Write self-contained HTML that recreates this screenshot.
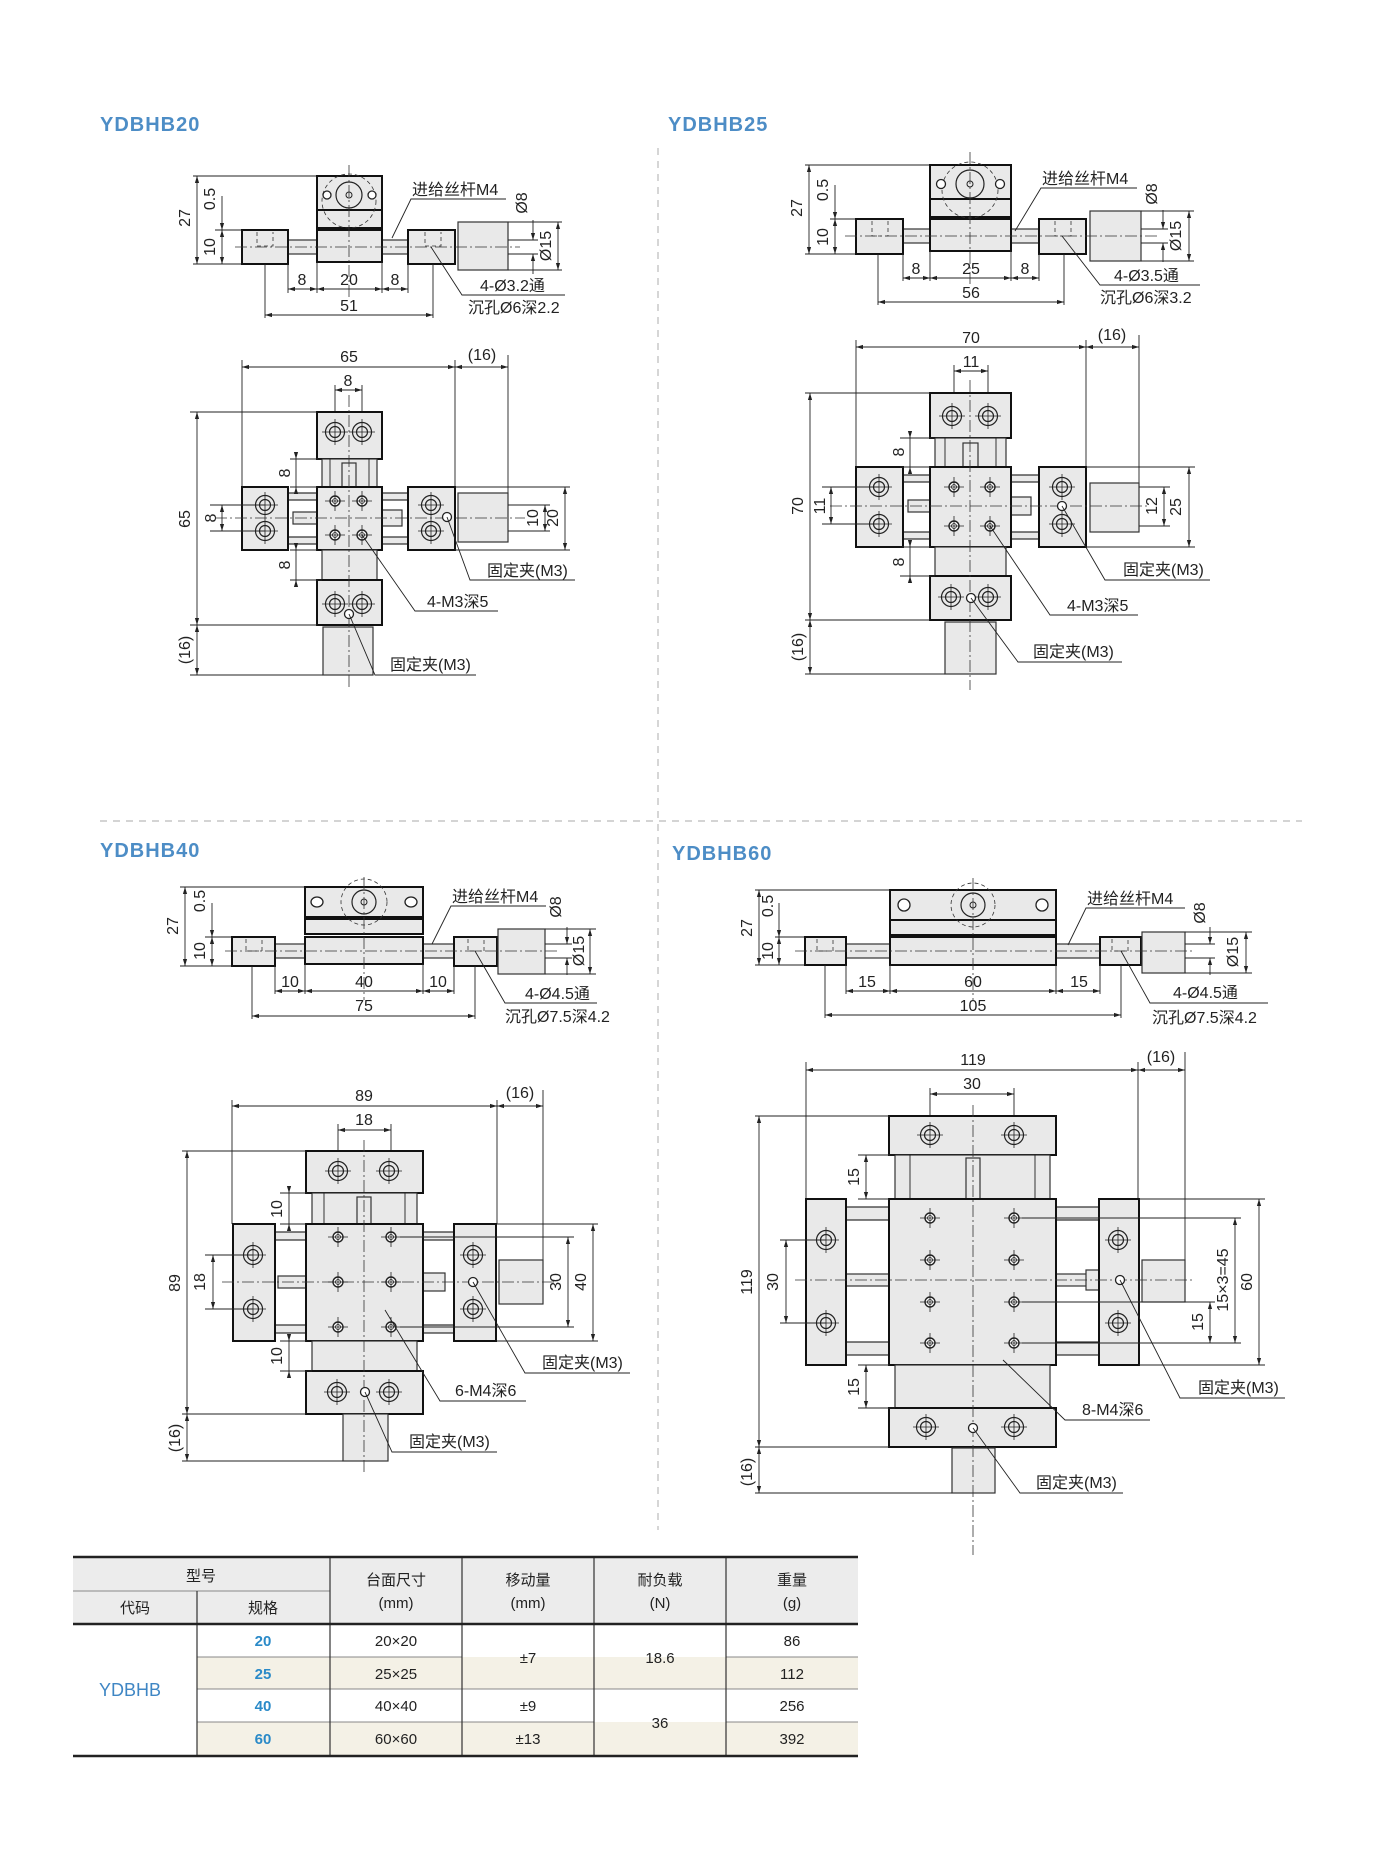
<!DOCTYPE html>
<html><head><meta charset="utf-8">
<style>
html,body{margin:0;padding:0;background:#fff;}
svg{display:block}
text{font-family:"Liberation Sans","Noto Sans CJK SC",sans-serif;fill:#222;}
.p{fill:#e9e9e9;stroke:#111;stroke-width:2}
.q{fill:#e9e9e9;stroke:#333;stroke-width:1.2}
.dm{stroke:#222;stroke-width:.9;fill:none}
.cl{stroke:#333;stroke-width:.8;stroke-dasharray:12 3 2 3;fill:none}
.dh{stroke:#333;stroke-width:.8;stroke-dasharray:4 3;fill:none}
.t{font-size:16px}
.l{font-size:16px}
.tt{font-size:20px;fill:#4d8dc6;font-weight:bold;letter-spacing:1px}
.tb{font-size:15px}
</style></head>
<body>
<svg width="1384" height="1856" viewBox="0 0 1384 1856" xmlns="http://www.w3.org/2000/svg">
<defs>
<marker id="a" viewBox="0 0 10 10" refX="10" refY="5" markerUnits="userSpaceOnUse" markerWidth="9" markerHeight="7" orient="auto-start-reverse"><path d="M0,2 L10,5 L0,8z" fill="#222"/></marker>
<g id="hb"><circle r="9.5" fill="none" stroke="#222" stroke-width="1.2"/><circle r="5.5" fill="none" stroke="#222" stroke-width="1.2"/><path d="M-13 0H13M0-13V13" stroke="#222" stroke-width=".8"/></g>
<g id="ht"><circle r="5" fill="#fff" stroke="#222" stroke-width="1.4"/><circle r="2.5" fill="none" stroke="#222" stroke-width=".8"/><path d="M-10 0H10M0-10V10" stroke="#222" stroke-width=".8"/></g>
<g id="hs"><circle r="4.5" fill="#fff" stroke="#222" stroke-width="1.3"/></g>
</defs>

<line x1="658" y1="148" x2="658" y2="1530" stroke="#bbb" stroke-width="1.2" stroke-dasharray="7 6"/>
<line x1="100" y1="821" x2="1302" y2="821" stroke="#bbb" stroke-width="1.2" stroke-dasharray="7 6"/>

<text class="tt" x="100" y="131">YDBHB20</text>
<text class="tt" x="668" y="131">YDBHB25</text>
<text class="tt" x="100" y="857">YDBHB40</text>
<text class="tt" x="672" y="860">YDBHB60</text>

<!-- YDBHB20 side -->
<g>
<path class="dm" d="M193 176H317M193 264H242M215 230H242"/>
<line class="dm" x1="197" y1="176" x2="197" y2="264" marker-start="url(#a)" marker-end="url(#a)"/>
<line class="dm" x1="222" y1="196" x2="222" y2="230" marker-end="url(#a)"/>
<line class="dm" x1="222" y1="230" x2="222" y2="264" marker-start="url(#a)" marker-end="url(#a)"/>
<text class="t" transform="rotate(-90 190 218)" x="190" y="218" text-anchor="middle">27</text>
<text class="t" transform="rotate(-90 215 199)" x="215" y="199" text-anchor="middle">0.5</text>
<text class="t" transform="rotate(-90 215 247)" x="215" y="247" text-anchor="middle">10</text>
<rect class="q" x="288" y="240" width="29" height="14"/>
<rect class="q" x="382" y="240" width="26" height="14"/>
<rect class="p" x="317" y="176" width="65" height="34"/>
<rect class="p" x="317" y="210" width="65" height="18"/>
<rect class="p" x="317" y="230" width="65" height="32"/>
<rect class="p" x="242" y="230" width="46" height="34"/>
<rect class="p" x="408" y="230" width="47" height="34"/>
<rect class="q" x="458" y="222" width="50" height="48"/>
<circle cx="349" cy="201" r="27" class="dh"/>
<circle cx="349" cy="195" r="13" fill="#e9e9e9" stroke="#222" stroke-width="1.2"/>
<circle cx="349" cy="195" r="3" fill="none" stroke="#222"/>
<circle cx="327" cy="195" r="4" fill="#fff" stroke="#222" stroke-width="1.3"/>
<circle cx="372" cy="195" r="4" fill="#fff" stroke="#222" stroke-width="1.3"/>
<path class="dh" d="M257 232V246H273V232M425 232V246H441V232"/>
<line class="cl" x1="349" y1="165" x2="349" y2="300"/>
<line class="cl" x1="235" y1="247" x2="520" y2="247"/>
<path class="dm" d="M288 264V293M317 262V293M382 262V293M408 264V293M265 264V318M433 264V318"/>
<line class="dm" x1="288" y1="289" x2="317" y2="289" marker-start="url(#a)" marker-end="url(#a)"/>
<line class="dm" x1="317" y1="289" x2="382" y2="289" marker-start="url(#a)" marker-end="url(#a)"/>
<line class="dm" x1="382" y1="289" x2="408" y2="289" marker-start="url(#a)" marker-end="url(#a)"/>
<line class="dm" x1="265" y1="315" x2="433" y2="315" marker-start="url(#a)" marker-end="url(#a)"/>
<text class="t" x="302" y="285" text-anchor="middle">8</text>
<text class="t" x="349" y="285" text-anchor="middle">20</text>
<text class="t" x="395" y="285" text-anchor="middle">8</text>
<text class="t" x="349" y="311" text-anchor="middle">51</text>
<path class="dm" d="M508 222H562M508 270H562M508 240H538M508 254H538"/>
<line class="dm" x1="533" y1="220" x2="533" y2="240" marker-end="url(#a)"/>
<line class="dm" x1="533" y1="274" x2="533" y2="254" marker-end="url(#a)"/>
<line class="dm" x1="558" y1="222" x2="558" y2="270" marker-start="url(#a)" marker-end="url(#a)"/>
<text class="t" transform="rotate(-90 527 203)" x="527" y="203" text-anchor="middle">Ø8</text>
<text class="t" transform="rotate(-90 551 246)" x="551" y="246" text-anchor="middle">Ø15</text>
<text class="l" x="412" y="195">进给丝杆M4</text>
<path class="dm" d="M506 199H411L392 238"/>
<text class="l" x="480" y="291">4-Ø3.2通</text>
<path class="dm" d="M565 295H462L431 247"/>
<text class="l" x="468" y="313">沉孔Ø6深2.2</text>
</g>

<!-- YDBHB20 top -->
<g>
<path class="dm" d="M242 360V487M455 360V487M508 355V493"/>
<line class="dm" x1="242" y1="367" x2="455" y2="367" marker-start="url(#a)" marker-end="url(#a)"/>
<line class="dm" x1="455" y1="367" x2="508" y2="367" marker-start="url(#a)" marker-end="url(#a)"/>
<text class="t" x="349" y="362" text-anchor="middle">65</text>
<text class="t" x="482" y="360" text-anchor="middle">(16)</text>
<path class="dm" d="M335 385V440M362 385V440"/>
<line class="dm" x1="335" y1="390" x2="362" y2="390" marker-start="url(#a)" marker-end="url(#a)"/>
<text class="t" x="348" y="386" text-anchor="middle">8</text>
<path class="q" d="M288 493H317V500H288zM288 537H317V544H288zM382 493H408V500H382zM382 537H408V544H382z"/>
<rect class="q" x="293" y="512" width="24" height="12"/>
<rect class="q" x="382" y="510" width="20" height="16"/>
<rect class="p" x="317" y="412" width="65" height="47"/>
<rect class="q" x="322" y="459" width="55" height="28"/>
<path class="dm" d="M330 459V487M369 459V487M330 550V580M369 550V580"/>
<rect class="q" x="342" y="463" width="14" height="24"/>
<rect class="q" x="340" y="562" width="18" height="18"/>
<rect class="p" x="317" y="487" width="65" height="63"/>
<rect class="q" x="322" y="550" width="55" height="30"/>
<rect class="p" x="317" y="580" width="65" height="45"/>
<rect class="p" x="242" y="487" width="46" height="63"/>
<rect class="p" x="408" y="487" width="47" height="63"/>
<rect class="q" x="458" y="493" width="50" height="49"/>
<rect class="q" x="323" y="627" width="50" height="48"/>
<line class="cl" x1="349" y1="395" x2="349" y2="690"/>
<line class="cl" x1="215" y1="518" x2="525" y2="518"/>
<use href="#hb" x="335" y="432"/><use href="#hb" x="362" y="432"/>
<use href="#hb" x="335" y="604"/><use href="#hb" x="362" y="604"/>
<use href="#hb" x="265" y="505"/><use href="#hb" x="265" y="531"/>
<use href="#hb" x="431" y="505"/><use href="#hb" x="431" y="531"/>
<use href="#ht" x="335" y="501"/><use href="#ht" x="362" y="501"/>
<use href="#ht" x="335" y="535"/><use href="#ht" x="362" y="535"/>
<use href="#hs" x="349" y="614"/><use href="#hs" x="447" y="517"/>
<path class="dm" d="M190 412H317M190 625H317M190 675H323"/>
<line class="dm" x1="197" y1="412" x2="197" y2="625" marker-start="url(#a)" marker-end="url(#a)"/>
<line class="dm" x1="197" y1="625" x2="197" y2="675" marker-start="url(#a)" marker-end="url(#a)"/>
<text class="t" transform="rotate(-90 190 519)" x="190" y="519" text-anchor="middle">65</text>
<text class="t" transform="rotate(-90 190 650)" x="190" y="650" text-anchor="middle">(16)</text>
<path class="dm" d="M290 459H322M290 487H317M290 550H317M290 580H322"/>
<line class="dm" x1="296" y1="452" x2="296" y2="459" marker-end="url(#a)"/>
<line class="dm" x1="296" y1="494" x2="296" y2="487" marker-end="url(#a)"/>
<line class="dm" x1="296" y1="543" x2="296" y2="550" marker-end="url(#a)"/>
<line class="dm" x1="296" y1="587" x2="296" y2="580" marker-end="url(#a)"/>
<line class="dm" x1="296" y1="459" x2="296" y2="487"/>
<line class="dm" x1="296" y1="550" x2="296" y2="580"/>
<text class="t" transform="rotate(-90 290 473)" x="290" y="473" text-anchor="middle">8</text>
<text class="t" transform="rotate(-90 290 565)" x="290" y="565" text-anchor="middle">8</text>
<path class="dm" d="M210 505H265M210 531H265"/>
<line class="dm" x1="222" y1="505" x2="222" y2="531" marker-start="url(#a)" marker-end="url(#a)"/>
<text class="t" transform="rotate(-90 216 518)" x="216" y="518" text-anchor="middle">8</text>
<path class="dm" d="M508 505H550M508 531H550M455 487H570M455 550H570"/>
<line class="dm" x1="545" y1="505" x2="545" y2="531" marker-start="url(#a)" marker-end="url(#a)"/>
<line class="dm" x1="565" y1="487" x2="565" y2="550" marker-start="url(#a)" marker-end="url(#a)"/>
<text class="t" transform="rotate(-90 538 518)" x="538" y="518" text-anchor="middle">10</text>
<text class="t" transform="rotate(-90 558 518)" x="558" y="518" text-anchor="middle">20</text>
<text class="l" x="487" y="576">固定夹(M3)</text>
<path class="dm" d="M575 580H470L447 517"/>
<text class="l" x="427" y="607">4-M3深5</text>
<path class="dm" d="M498 611H415L362 535"/>
<text class="l" x="390" y="670">固定夹(M3)</text>
<path class="dm" d="M476 675H375L349 614"/>
</g>

<!-- YDBHB25 side -->
<g>
<path class="dm" d="M805 165H930M805 254H856M830 219H856"/>
<line class="dm" x1="809" y1="165" x2="809" y2="254" marker-start="url(#a)" marker-end="url(#a)"/>
<line class="dm" x1="835" y1="185" x2="835" y2="219" marker-end="url(#a)"/>
<line class="dm" x1="835" y1="219" x2="835" y2="254" marker-start="url(#a)" marker-end="url(#a)"/>
<text class="t" transform="rotate(-90 802 208)" x="802" y="208" text-anchor="middle">27</text>
<text class="t" transform="rotate(-90 828 190)" x="828" y="190" text-anchor="middle">0.5</text>
<text class="t" transform="rotate(-90 828 237)" x="828" y="237" text-anchor="middle">10</text>
<rect class="q" x="903" y="229" width="27" height="14"/>
<rect class="q" x="1011" y="229" width="28" height="14"/>
<rect class="p" x="930" y="165" width="81" height="34"/>
<rect class="p" x="930" y="199" width="81" height="18"/>
<rect class="p" x="930" y="219" width="81" height="32"/>
<rect class="p" x="856" y="219" width="47" height="35"/>
<rect class="p" x="1039" y="219" width="47" height="35"/>
<rect class="q" x="1090" y="211" width="51" height="50"/>
<circle cx="970" cy="190" r="28" class="dh"/>
<circle cx="970" cy="184" r="14" fill="#e9e9e9" stroke="#222" stroke-width="1.2"/>
<circle cx="970" cy="184" r="3" fill="none" stroke="#222"/>
<circle cx="941" cy="184" r="4.5" fill="#fff" stroke="#222" stroke-width="1.3"/>
<circle cx="1000" cy="184" r="4.5" fill="#fff" stroke="#222" stroke-width="1.3"/>
<path class="dh" d="M872 221V236H888V221M1055 221V236H1071V221"/>
<line class="cl" x1="970" y1="152" x2="970" y2="285"/>
<line class="cl" x1="845" y1="236" x2="1160" y2="236"/>
<path class="dm" d="M903 254V281M930 251V281M1011 251V281M1039 254V281M878 254V305M1064 254V305"/>
<line class="dm" x1="903" y1="278" x2="930" y2="278" marker-start="url(#a)" marker-end="url(#a)"/>
<line class="dm" x1="930" y1="278" x2="1011" y2="278" marker-start="url(#a)" marker-end="url(#a)"/>
<line class="dm" x1="1011" y1="278" x2="1039" y2="278" marker-start="url(#a)" marker-end="url(#a)"/>
<line class="dm" x1="878" y1="302" x2="1064" y2="302" marker-start="url(#a)" marker-end="url(#a)"/>
<text class="t" x="916" y="274" text-anchor="middle">8</text>
<text class="t" x="971" y="274" text-anchor="middle">25</text>
<text class="t" x="1025" y="274" text-anchor="middle">8</text>
<text class="t" x="971" y="298" text-anchor="middle">56</text>
<path class="dm" d="M1141 211H1194M1141 261H1194M1141 229H1168M1141 243H1168"/>
<line class="dm" x1="1163" y1="210" x2="1163" y2="229" marker-end="url(#a)"/>
<line class="dm" x1="1163" y1="262" x2="1163" y2="243" marker-end="url(#a)"/>
<line class="dm" x1="1189" y1="211" x2="1189" y2="261" marker-start="url(#a)" marker-end="url(#a)"/>
<text class="t" transform="rotate(-90 1157 194)" x="1157" y="194" text-anchor="middle">Ø8</text>
<text class="t" transform="rotate(-90 1181 236)" x="1181" y="236" text-anchor="middle">Ø15</text>
<text class="l" x="1042" y="184">进给丝杆M4</text>
<path class="dm" d="M1137 188H1041L1015 231"/>
<text class="l" x="1114" y="281">4-Ø3.5通</text>
<path class="dm" d="M1200 285H1100L1062 236"/>
<text class="l" x="1100" y="303">沉孔Ø6深3.2</text>
</g>

<!-- YDBHB25 top -->
<g>
<path class="dm" d="M856 340V467M1086 340V467M1139 335V483"/>
<line class="dm" x1="856" y1="347" x2="1086" y2="347" marker-start="url(#a)" marker-end="url(#a)"/>
<line class="dm" x1="1086" y1="347" x2="1139" y2="347" marker-start="url(#a)" marker-end="url(#a)"/>
<text class="t" x="971" y="343" text-anchor="middle">70</text>
<text class="t" x="1112" y="340" text-anchor="middle">(16)</text>
<path class="dm" d="M954 365V440M988 365V440"/>
<line class="dm" x1="954" y1="371" x2="988" y2="371" marker-start="url(#a)" marker-end="url(#a)"/>
<text class="t" x="971" y="367" text-anchor="middle">11</text>
<path class="q" d="M903 475H930V482H903zM903 532H930V539H903zM1011 475H1039V482H1011zM1011 532H1039V539H1011z"/>
<rect class="q" x="908" y="500" width="22" height="12"/>
<rect class="q" x="1011" y="497" width="20" height="18"/>
<rect class="p" x="930" y="393" width="81" height="45"/>
<rect class="q" x="935" y="438" width="71" height="29"/>
<path class="dm" d="M945 438V467M996 438V467M945 547V576M996 547V576"/>
<rect class="q" x="963" y="443" width="15" height="24"/>
<rect class="q" x="960" y="560" width="21" height="16"/>
<rect class="p" x="930" y="467" width="81" height="80"/>
<rect class="q" x="935" y="547" width="71" height="29"/>
<rect class="p" x="930" y="576" width="81" height="44"/>
<rect class="p" x="856" y="467" width="47" height="80"/>
<rect class="p" x="1039" y="467" width="47" height="80"/>
<rect class="q" x="1090" y="483" width="49" height="49"/>
<rect class="q" x="945" y="622" width="51" height="52"/>
<line class="cl" x1="970" y1="380" x2="970" y2="690"/>
<line class="cl" x1="830" y1="506" x2="1150" y2="506"/>
<use href="#hb" x="952" y="416"/><use href="#hb" x="988" y="416"/>
<use href="#hb" x="951" y="597"/><use href="#hb" x="988" y="597"/>
<use href="#hb" x="879" y="487"/><use href="#hb" x="879" y="524"/>
<use href="#hb" x="1062" y="487"/><use href="#hb" x="1062" y="524"/>
<use href="#ht" x="954" y="487"/><use href="#ht" x="990" y="487"/>
<use href="#ht" x="954" y="526"/><use href="#ht" x="990" y="526"/>
<use href="#hs" x="971" y="598"/><use href="#hs" x="1062" y="506"/>
<path class="dm" d="M805 393H930M805 620H930M805 674H945"/>
<line class="dm" x1="810" y1="393" x2="810" y2="620" marker-start="url(#a)" marker-end="url(#a)"/>
<line class="dm" x1="810" y1="620" x2="810" y2="674" marker-start="url(#a)" marker-end="url(#a)"/>
<text class="t" transform="rotate(-90 803 506)" x="803" y="506" text-anchor="middle">70</text>
<text class="t" transform="rotate(-90 803 647)" x="803" y="647" text-anchor="middle">(16)</text>
<path class="dm" d="M900 438H935M900 467H930M900 547H930M900 576H935"/>
<line class="dm" x1="910" y1="431" x2="910" y2="438" marker-end="url(#a)"/>
<line class="dm" x1="910" y1="474" x2="910" y2="467" marker-end="url(#a)"/>
<line class="dm" x1="910" y1="540" x2="910" y2="547" marker-end="url(#a)"/>
<line class="dm" x1="910" y1="583" x2="910" y2="576" marker-end="url(#a)"/>
<line class="dm" x1="910" y1="438" x2="910" y2="467"/>
<line class="dm" x1="910" y1="547" x2="910" y2="576"/>
<text class="t" transform="rotate(-90 904 452)" x="904" y="452" text-anchor="middle">8</text>
<text class="t" transform="rotate(-90 904 562)" x="904" y="562" text-anchor="middle">8</text>
<path class="dm" d="M822 487H879M822 524H879"/>
<line class="dm" x1="831" y1="487" x2="831" y2="524" marker-start="url(#a)" marker-end="url(#a)"/>
<text class="t" transform="rotate(-90 825 506)" x="825" y="506" text-anchor="middle">11</text>
<path class="dm" d="M1139 487H1170M1139 526H1170M1086 467H1195M1086 547H1195"/>
<line class="dm" x1="1164" y1="487" x2="1164" y2="526" marker-start="url(#a)" marker-end="url(#a)"/>
<line class="dm" x1="1189" y1="467" x2="1189" y2="547" marker-start="url(#a)" marker-end="url(#a)"/>
<text class="t" transform="rotate(-90 1157 506)" x="1157" y="506" text-anchor="middle">12</text>
<text class="t" transform="rotate(-90 1181 507)" x="1181" y="507" text-anchor="middle">25</text>
<text class="l" x="1123" y="575">固定夹(M3)</text>
<path class="dm" d="M1210 580H1105L1062 506"/>
<text class="l" x="1067" y="611">4-M3深5</text>
<path class="dm" d="M1138 615H1050L990 526"/>
<text class="l" x="1033" y="657">固定夹(M3)</text>
<path class="dm" d="M1122 662H1018L971 598"/>
</g>

<!-- YDBHB40 side -->
<g>
<path class="dm" d="M180 887H305M180 966H232M205 937H232"/>
<line class="dm" x1="185" y1="887" x2="185" y2="966" marker-start="url(#a)" marker-end="url(#a)"/>
<line class="dm" x1="212" y1="903" x2="212" y2="937" marker-end="url(#a)"/>
<line class="dm" x1="212" y1="937" x2="212" y2="966" marker-start="url(#a)" marker-end="url(#a)"/>
<text class="t" transform="rotate(-90 178 926)" x="178" y="926" text-anchor="middle">27</text>
<text class="t" transform="rotate(-90 205 901)" x="205" y="901" text-anchor="middle">0.5</text>
<text class="t" transform="rotate(-90 205 951)" x="205" y="951" text-anchor="middle">10</text>
<rect class="q" x="275" y="944" width="30" height="14"/>
<rect class="q" x="423" y="944" width="31" height="14"/>
<rect class="p" x="305" y="887" width="118" height="30"/>
<rect class="p" x="305" y="919" width="118" height="15"/>
<rect class="p" x="305" y="937" width="118" height="27"/>
<rect class="p" x="232" y="937" width="43" height="29"/>
<rect class="p" x="454" y="937" width="43" height="29"/>
<rect class="q" x="498" y="929" width="47" height="45"/>
<circle cx="364" cy="902" r="23" class="dh"/>
<circle cx="364" cy="902" r="12" fill="#e9e9e9" stroke="#222" stroke-width="1.2"/>
<circle cx="364" cy="902" r="3" fill="none" stroke="#222"/>
<ellipse cx="317" cy="902" rx="6" ry="5" fill="#fff" stroke="#222" stroke-width="1.3"/>
<ellipse cx="411" cy="902" rx="6" ry="5" fill="#fff" stroke="#222" stroke-width="1.3"/>
<path class="dh" d="M246 939V951H262V939M468 939V951H484V939"/>
<line class="cl" x1="364" y1="877" x2="364" y2="1000"/>
<line class="cl" x1="225" y1="951" x2="560" y2="951"/>
<path class="dm" d="M275 966V994M305 964V994M423 964V994M454 966V994M252 966V1019M475 966V1019"/>
<line class="dm" x1="275" y1="991" x2="305" y2="991" marker-start="url(#a)" marker-end="url(#a)"/>
<line class="dm" x1="305" y1="991" x2="423" y2="991" marker-start="url(#a)" marker-end="url(#a)"/>
<line class="dm" x1="423" y1="991" x2="454" y2="991" marker-start="url(#a)" marker-end="url(#a)"/>
<line class="dm" x1="252" y1="1016" x2="475" y2="1016" marker-start="url(#a)" marker-end="url(#a)"/>
<text class="t" x="290" y="987" text-anchor="middle">10</text>
<text class="t" x="364" y="987" text-anchor="middle">40</text>
<text class="t" x="438" y="987" text-anchor="middle">10</text>
<text class="t" x="364" y="1011" text-anchor="middle">75</text>
<path class="dm" d="M545 929H596M545 974H596M545 944H572M545 958H572"/>
<line class="dm" x1="567" y1="927" x2="567" y2="944" marker-end="url(#a)"/>
<line class="dm" x1="567" y1="975" x2="567" y2="958" marker-end="url(#a)"/>
<line class="dm" x1="590" y1="929" x2="590" y2="974" marker-start="url(#a)" marker-end="url(#a)"/>
<text class="t" transform="rotate(-90 561 907)" x="561" y="907" text-anchor="middle">Ø8</text>
<text class="t" transform="rotate(-90 584 951)" x="584" y="951" text-anchor="middle">Ø15</text>
<text class="l" x="452" y="902">进给丝杆M4</text>
<path class="dm" d="M546 906H451L432 944"/>
<text class="l" x="525" y="999">4-Ø4.5通</text>
<path class="dm" d="M597 1003H505L475 951"/>
<text class="l" x="505" y="1022">沉孔Ø7.5深4.2</text>
</g>

<!-- YDBHB40 top -->
<g>
<path class="dm" d="M232 1100V1224M497 1100V1224M543 1090V1260"/>
<line class="dm" x1="232" y1="1106" x2="497" y2="1106" marker-start="url(#a)" marker-end="url(#a)"/>
<line class="dm" x1="497" y1="1106" x2="543" y2="1106" marker-start="url(#a)" marker-end="url(#a)"/>
<text class="t" x="364" y="1101" text-anchor="middle">89</text>
<text class="t" x="520" y="1098" text-anchor="middle">(16)</text>
<path class="dm" d="M338 1124V1193M391 1124V1193"/>
<line class="dm" x1="338" y1="1130" x2="391" y2="1130" marker-start="url(#a)" marker-end="url(#a)"/>
<text class="t" x="364" y="1125" text-anchor="middle">18</text>
<path class="q" d="M275 1232H306V1240H275zM275 1325H306V1333H275zM423 1232H454V1240H423zM423 1325H454V1333H423z"/>
<rect class="q" x="278" y="1276" width="28" height="12"/>
<rect class="q" x="423" y="1273" width="22" height="18"/>
<rect class="p" x="306" y="1151" width="117" height="42"/>
<rect class="q" x="312" y="1193" width="105" height="31"/>
<path class="dm" d="M324 1193V1224M405 1193V1224M324 1341V1371M405 1341V1371"/>
<rect class="q" x="357" y="1197" width="14" height="27"/>
<rect class="q" x="354" y="1355" width="21" height="16"/>
<rect class="p" x="306" y="1224" width="117" height="117"/>
<rect class="q" x="312" y="1341" width="105" height="30"/>
<rect class="p" x="306" y="1371" width="117" height="43"/>
<rect class="p" x="233" y="1224" width="42" height="117"/>
<rect class="p" x="454" y="1224" width="42" height="117"/>
<rect class="q" x="499" y="1260" width="44" height="44"/>
<rect class="q" x="343" y="1414" width="45" height="47"/>
<line class="cl" x1="364" y1="1140" x2="364" y2="1475"/>
<line class="cl" x1="222" y1="1282" x2="555" y2="1282"/>
<use href="#hb" x="338" y="1171"/><use href="#hb" x="389" y="1171"/>
<use href="#hb" x="337" y="1392"/><use href="#hb" x="389" y="1392"/>
<use href="#hb" x="253" y="1255"/><use href="#hb" x="253" y="1309"/>
<use href="#hb" x="473" y="1255"/><use href="#hb" x="473" y="1309"/>
<use href="#ht" x="338" y="1237"/><use href="#ht" x="391" y="1237"/>
<use href="#ht" x="338" y="1282"/><use href="#ht" x="391" y="1282"/>
<use href="#ht" x="338" y="1327"/><use href="#ht" x="391" y="1327"/>
<use href="#hs" x="365" y="1392"/><use href="#hs" x="473" y="1282"/>
<path class="dm" d="M182 1151H306M182 1414H306M182 1461H343"/>
<line class="dm" x1="187" y1="1151" x2="187" y2="1414" marker-start="url(#a)" marker-end="url(#a)"/>
<line class="dm" x1="187" y1="1414" x2="187" y2="1461" marker-start="url(#a)" marker-end="url(#a)"/>
<text class="t" transform="rotate(-90 180 1283)" x="180" y="1283" text-anchor="middle">89</text>
<text class="t" transform="rotate(-90 180 1438)" x="180" y="1438" text-anchor="middle">(16)</text>
<path class="dm" d="M280 1193H312M280 1224H306M280 1341H306M280 1371H312"/>
<line class="dm" x1="289" y1="1186" x2="289" y2="1193" marker-end="url(#a)"/>
<line class="dm" x1="289" y1="1231" x2="289" y2="1224" marker-end="url(#a)"/>
<line class="dm" x1="289" y1="1334" x2="289" y2="1341" marker-end="url(#a)"/>
<line class="dm" x1="289" y1="1378" x2="289" y2="1371" marker-end="url(#a)"/>
<line class="dm" x1="289" y1="1193" x2="289" y2="1224"/>
<line class="dm" x1="289" y1="1341" x2="289" y2="1371"/>
<text class="t" transform="rotate(-90 282 1209)" x="282" y="1209" text-anchor="middle">10</text>
<text class="t" transform="rotate(-90 282 1356)" x="282" y="1356" text-anchor="middle">10</text>
<path class="dm" d="M205 1255H253M205 1309H253"/>
<line class="dm" x1="213" y1="1255" x2="213" y2="1309" marker-start="url(#a)" marker-end="url(#a)"/>
<text class="t" transform="rotate(-90 205 1282)" x="205" y="1282" text-anchor="middle">18</text>
<path class="dm" d="M400 1237H574M400 1327H574M497 1224H598M497 1341H598"/>
<line class="dm" x1="568" y1="1237" x2="568" y2="1327" marker-start="url(#a)" marker-end="url(#a)"/>
<line class="dm" x1="593" y1="1224" x2="593" y2="1341" marker-start="url(#a)" marker-end="url(#a)"/>
<text class="t" transform="rotate(-90 561 1282)" x="561" y="1282" text-anchor="middle">30</text>
<text class="t" transform="rotate(-90 586 1282)" x="586" y="1282" text-anchor="middle">40</text>
<text class="l" x="542" y="1368">固定夹(M3)</text>
<path class="dm" d="M630 1373H525L473 1282"/>
<text class="l" x="455" y="1396">6-M4深6</text>
<path class="dm" d="M526 1401H440L385 1310"/>
<text class="l" x="409" y="1447">固定夹(M3)</text>
<path class="dm" d="M497 1452H392L365 1392"/>
</g>

<!-- YDBHB60 side -->
<g>
<path class="dm" d="M755 890H890M755 965H805M775 937H805"/>
<line class="dm" x1="759" y1="890" x2="759" y2="965" marker-start="url(#a)" marker-end="url(#a)"/>
<line class="dm" x1="779" y1="903" x2="779" y2="937" marker-end="url(#a)"/>
<line class="dm" x1="779" y1="937" x2="779" y2="965" marker-start="url(#a)" marker-end="url(#a)"/>
<text class="t" transform="rotate(-90 752 928)" x="752" y="928" text-anchor="middle">27</text>
<text class="t" transform="rotate(-90 773 906)" x="773" y="906" text-anchor="middle">0.5</text>
<text class="t" transform="rotate(-90 773 951)" x="773" y="951" text-anchor="middle">10</text>
<rect class="q" x="846" y="944" width="44" height="14"/>
<rect class="q" x="1056" y="944" width="44" height="14"/>
<rect class="p" x="890" y="890" width="166" height="30"/>
<rect class="p" x="890" y="920" width="166" height="15"/>
<rect class="p" x="890" y="937" width="166" height="28"/>
<rect class="p" x="805" y="937" width="41" height="28"/>
<rect class="p" x="1100" y="937" width="41" height="28"/>
<rect class="q" x="1142" y="932" width="43" height="41"/>
<circle cx="973" cy="905" r="22" class="dh"/>
<circle cx="973" cy="905" r="12" fill="#e9e9e9" stroke="#222" stroke-width="1.2"/>
<circle cx="973" cy="905" r="3" fill="none" stroke="#222"/>
<circle cx="904" cy="905" r="6" fill="#fff" stroke="#222" stroke-width="1.3"/>
<circle cx="1042" cy="905" r="6" fill="#fff" stroke="#222" stroke-width="1.3"/>
<path class="dh" d="M817 939V951H833V939M1112 939V951H1128V939"/>
<line class="cl" x1="973" y1="878" x2="973" y2="1000"/>
<line class="cl" x1="795" y1="951" x2="1195" y2="951"/>
<path class="dm" d="M846 965V994M890 965V994M1056 965V994M1100 965V994M825 965V1018M1121 965V1018"/>
<line class="dm" x1="846" y1="991" x2="890" y2="991" marker-start="url(#a)" marker-end="url(#a)"/>
<line class="dm" x1="890" y1="991" x2="1056" y2="991" marker-start="url(#a)" marker-end="url(#a)"/>
<line class="dm" x1="1056" y1="991" x2="1100" y2="991" marker-start="url(#a)" marker-end="url(#a)"/>
<line class="dm" x1="825" y1="1015" x2="1121" y2="1015" marker-start="url(#a)" marker-end="url(#a)"/>
<text class="t" x="867" y="987" text-anchor="middle">15</text>
<text class="t" x="973" y="987" text-anchor="middle">60</text>
<text class="t" x="1079" y="987" text-anchor="middle">15</text>
<text class="t" x="973" y="1011" text-anchor="middle">105</text>
<path class="dm" d="M1185 932H1252M1185 973H1252M1185 944H1215M1185 958H1215"/>
<line class="dm" x1="1210" y1="927" x2="1210" y2="944" marker-end="url(#a)"/>
<line class="dm" x1="1210" y1="975" x2="1210" y2="958" marker-end="url(#a)"/>
<line class="dm" x1="1246" y1="932" x2="1246" y2="973" marker-start="url(#a)" marker-end="url(#a)"/>
<text class="t" transform="rotate(-90 1205 913)" x="1205" y="913" text-anchor="middle">Ø8</text>
<text class="t" transform="rotate(-90 1238 952)" x="1238" y="952" text-anchor="middle">Ø15</text>
<text class="l" x="1087" y="904">进给丝杆M4</text>
<path class="dm" d="M1185 908H1086L1068 945"/>
<text class="l" x="1173" y="998">4-Ø4.5通</text>
<path class="dm" d="M1268 1003H1150L1121 951"/>
<text class="l" x="1152" y="1023">沉孔Ø7.5深4.2</text>
</g>

<!-- YDBHB60 top -->
<g>
<path class="dm" d="M806 1062V1199M1138 1062V1199M1185 1052V1260"/>
<line class="dm" x1="806" y1="1070" x2="1138" y2="1070" marker-start="url(#a)" marker-end="url(#a)"/>
<line class="dm" x1="1138" y1="1070" x2="1185" y2="1070" marker-start="url(#a)" marker-end="url(#a)"/>
<text class="t" x="973" y="1065" text-anchor="middle">119</text>
<text class="t" x="1161" y="1062" text-anchor="middle">(16)</text>
<path class="dm" d="M930 1088V1135M1014 1088V1135"/>
<line class="dm" x1="930" y1="1094" x2="1014" y2="1094" marker-start="url(#a)" marker-end="url(#a)"/>
<text class="t" x="972" y="1089" text-anchor="middle">30</text>
<path class="q" d="M846 1207H889V1220H846zM846 1342H889V1355H846zM1056 1207H1099V1220H1056zM1056 1342H1099V1355H1056z"/>
<rect class="q" x="846" y="1274" width="43" height="12"/>
<rect class="q" x="1056" y="1274" width="34" height="12"/>
<rect class="q" x="1086" y="1270" width="13" height="20"/>
<rect class="p" x="889" y="1116" width="167" height="39"/>
<rect class="q" x="895" y="1155" width="155" height="44"/>
<path class="dm" d="M910 1155V1199M1035 1155V1199M910 1365V1408M1035 1365V1408"/>
<rect class="q" x="966" y="1158" width="14" height="41"/>
<rect class="q" x="963" y="1393" width="20" height="15"/>
<rect class="q" x="968" y="1365" width="10" height="28"/>
<rect class="p" x="889" y="1199" width="167" height="166"/>
<rect class="q" x="895" y="1365" width="155" height="43"/>
<rect class="p" x="889" y="1408" width="167" height="39"/>
<rect class="p" x="806" y="1199" width="40" height="166"/>
<rect class="p" x="1099" y="1199" width="40" height="166"/>
<rect class="q" x="1142" y="1260" width="43" height="42"/>
<rect class="q" x="952" y="1448" width="43" height="45"/>
<line class="cl" x1="973" y1="1105" x2="973" y2="1555"/>
<line class="cl" x1="795" y1="1280" x2="1195" y2="1280"/>
<use href="#hb" x="930" y="1135"/><use href="#hb" x="1014" y="1135"/>
<use href="#hb" x="926" y="1427"/><use href="#hb" x="1014" y="1427"/>
<use href="#hb" x="826" y="1240"/><use href="#hb" x="826" y="1323"/>
<use href="#hb" x="1118" y="1240"/><use href="#hb" x="1118" y="1323"/>
<use href="#ht" x="930" y="1218"/><use href="#ht" x="1014" y="1218"/>
<use href="#ht" x="930" y="1260"/><use href="#ht" x="1014" y="1260"/>
<use href="#ht" x="930" y="1302"/><use href="#ht" x="1014" y="1302"/>
<use href="#ht" x="930" y="1343"/><use href="#ht" x="1014" y="1343"/>
<use href="#hs" x="973" y="1428"/><use href="#hs" x="1120" y="1280"/>
<path class="dm" d="M755 1116H889M755 1447H889M755 1493H952"/>
<line class="dm" x1="759" y1="1116" x2="759" y2="1447" marker-start="url(#a)" marker-end="url(#a)"/>
<line class="dm" x1="759" y1="1447" x2="759" y2="1493" marker-start="url(#a)" marker-end="url(#a)"/>
<text class="t" transform="rotate(-90 752 1282)" x="752" y="1282" text-anchor="middle">119</text>
<text class="t" transform="rotate(-90 752 1472)" x="752" y="1472" text-anchor="middle">(16)</text>
<path class="dm" d="M858 1155H895M858 1199H889M858 1365H889M858 1408H895"/>
<line class="dm" x1="866" y1="1155" x2="866" y2="1199" marker-start="url(#a)" marker-end="url(#a)"/>
<line class="dm" x1="866" y1="1365" x2="866" y2="1408" marker-start="url(#a)" marker-end="url(#a)"/>
<text class="t" transform="rotate(-90 859 1177)" x="859" y="1177" text-anchor="middle">15</text>
<text class="t" transform="rotate(-90 859 1387)" x="859" y="1387" text-anchor="middle">15</text>
<path class="dm" d="M780 1240H826M780 1323H826"/>
<line class="dm" x1="786" y1="1240" x2="786" y2="1323" marker-start="url(#a)" marker-end="url(#a)"/>
<text class="t" transform="rotate(-90 778 1282)" x="778" y="1282" text-anchor="middle">30</text>
<path class="dm" d="M1022 1218H1241M1022 1343H1241M1022 1302H1215M1139 1199H1265M1139 1365H1265"/>
<line class="dm" x1="1235" y1="1218" x2="1235" y2="1343" marker-start="url(#a)" marker-end="url(#a)"/>
<line class="dm" x1="1259" y1="1199" x2="1259" y2="1365" marker-start="url(#a)" marker-end="url(#a)"/>
<line class="dm" x1="1210" y1="1302" x2="1210" y2="1343" marker-start="url(#a)" marker-end="url(#a)"/>
<text class="t" transform="rotate(-90 1228 1280)" x="1228" y="1280" text-anchor="middle">15×3=45</text>
<text class="t" transform="rotate(-90 1252 1282)" x="1252" y="1282" text-anchor="middle">60</text>
<text class="t" transform="rotate(-90 1203 1322)" x="1203" y="1322" text-anchor="middle">15</text>
<text class="l" x="1198" y="1393">固定夹(M3)</text>
<path class="dm" d="M1285 1398H1180L1120 1280"/>
<text class="l" x="1082" y="1415">8-M4深6</text>
<path class="dm" d="M1150 1420H1065L1003 1360"/>
<text class="l" x="1036" y="1488">固定夹(M3)</text>
<path class="dm" d="M1123 1493H1020L973 1428"/>
</g>

<!-- TABLE -->
<g>
<rect x="73" y="1557" width="785" height="67" fill="#ececec"/>
<rect x="197" y="1657" width="661" height="32" fill="#f4f1e6"/>
<rect x="197" y="1722" width="661" height="34" fill="#f4f1e6"/>
<g fill="none" stroke="#888" stroke-width="1">
<line x1="73" y1="1591" x2="330" y2="1591"/>
<line x1="197" y1="1657" x2="462" y2="1657"/>
<line x1="726" y1="1657" x2="858" y2="1657"/>
<line x1="197" y1="1689" x2="858" y2="1689"/>
<line x1="197" y1="1722" x2="594" y2="1722"/>
<line x1="726" y1="1722" x2="858" y2="1722"/>
</g>
<g stroke="#333" stroke-width="1.2">
<line x1="197" y1="1591" x2="197" y2="1756"/>
<line x1="330" y1="1557" x2="330" y2="1756"/>
<line x1="462" y1="1557" x2="462" y2="1756"/>
<line x1="594" y1="1557" x2="594" y2="1756"/>
<line x1="726" y1="1557" x2="726" y2="1756"/>
</g>
<line x1="73" y1="1557" x2="858" y2="1557" stroke="#222" stroke-width="2.5"/>
<line x1="73" y1="1624" x2="858" y2="1624" stroke="#222" stroke-width="2.5"/>
<line x1="73" y1="1756" x2="858" y2="1756" stroke="#222" stroke-width="2.5"/>
<g class="tb" text-anchor="middle">
<text x="201" y="1581">型号</text>
<text x="135" y="1613">代码</text>
<text x="263" y="1613">规格</text>
<text x="396" y="1585">台面尺寸</text>
<text x="396" y="1608">(mm)</text>
<text x="528" y="1585">移动量</text>
<text x="528" y="1608">(mm)</text>
<text x="660" y="1585">耐负载</text>
<text x="660" y="1608">(N)</text>
<text x="792" y="1585">重量</text>
<text x="792" y="1608">(g)</text>
<text x="130" y="1696" style="fill:#3f86c4;font-size:18px">YDBHB</text>
<text x="263" y="1646" style="fill:#2a8ac8;font-weight:bold">20</text>
<text x="263" y="1679" style="fill:#2a8ac8;font-weight:bold">25</text>
<text x="263" y="1711" style="fill:#2a8ac8;font-weight:bold">40</text>
<text x="263" y="1744" style="fill:#2a8ac8;font-weight:bold">60</text>
<text x="396" y="1646">20×20</text>
<text x="396" y="1679">25×25</text>
<text x="396" y="1711">40×40</text>
<text x="396" y="1744">60×60</text>
<text x="528" y="1663">±7</text>
<text x="528" y="1711">±9</text>
<text x="528" y="1744">±13</text>
<text x="660" y="1663">18.6</text>
<text x="660" y="1728">36</text>
<text x="792" y="1646">86</text>
<text x="792" y="1679">112</text>
<text x="792" y="1711">256</text>
<text x="792" y="1744">392</text>
</g>
</g>
</svg>
</body></html>
